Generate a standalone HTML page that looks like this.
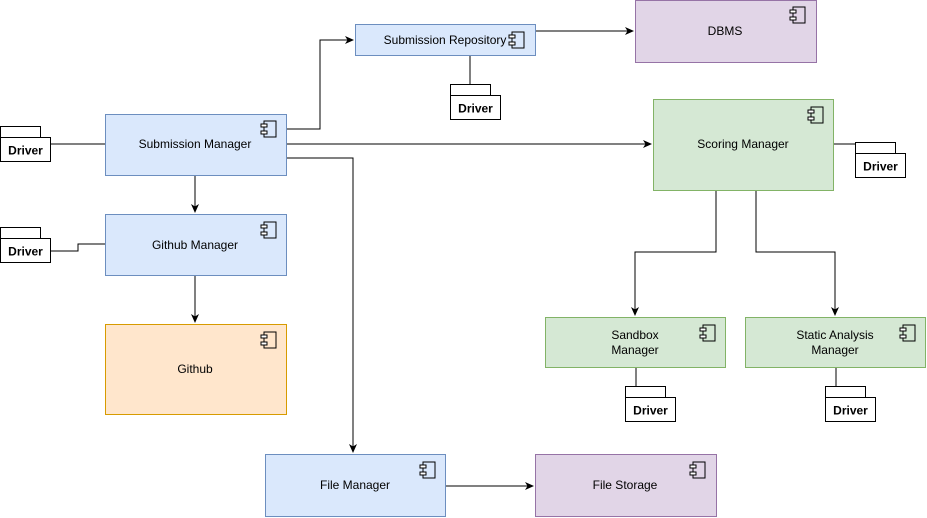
<!DOCTYPE html>
<html><head><meta charset="utf-8"><style>body{margin:0;background:#fff}svg{display:block}</style></head><body>
<svg width="927" height="518" viewBox="0 0 927 518" xmlns="http://www.w3.org/2000/svg" font-family="Liberation Sans, sans-serif" font-size="12">
<defs>
<marker id="a" markerWidth="10" markerHeight="10" refX="8" refY="5" orient="auto" markerUnits="userSpaceOnUse"><path d="M0,1 L9,5 L0,9 L2.5,5 Z" fill="#000"/></marker>
<g id="ic"><rect x="3" y="0" width="12" height="16" fill="none" stroke="#000"/><rect x="0" y="3" width="6" height="3" fill="#fff" stroke="#000"/><rect x="0" y="10" width="6" height="3" fill="#fff" stroke="#000"/></g>
<g id="dr"><rect x="0" y="0" width="40" height="11" fill="#fff" stroke="#000"/><rect x="0" y="11" width="50" height="24" fill="#fff" stroke="#000"/><text x="25" y="28" text-anchor="middle" font-weight="bold">Driver</text></g>
</defs>
<g fill="none" stroke="#000" stroke-width="1">
<path d="M286,129 H320 V40 H353" marker-end="url(#a)"/>
<path d="M286,144 H651" marker-end="url(#a)"/>
<path d="M286,158 H353 V452" marker-end="url(#a)"/>
<path d="M195,175 V212" marker-end="url(#a)"/>
<path d="M195,276 V322" marker-end="url(#a)"/>
<path d="M445,486 H533" marker-end="url(#a)"/>
<path d="M535,31 H633" marker-end="url(#a)"/>
<path d="M716,190 V252 H635 V315" marker-end="url(#a)"/>
<path d="M756,190 V252 H835 V315" marker-end="url(#a)"/>
<path d="M50,144 H105"/>
<path d="M50,251 H78 V244 H105"/>
<path d="M470,55 V84"/>
<path d="M833,144 H855"/>
<path d="M636,367 V386"/>
<path d="M836,367 V386"/>
</g>
<g>
<rect x="105.5" y="114.5" width="181" height="61" fill="#dae8fc" stroke="#6c8ebf"/>
<text x="195" y="148" text-anchor="middle">Submission Manager</text><use href="#ic" x="261" y="121"/>
<rect x="105.5" y="214.5" width="181" height="61" fill="#dae8fc" stroke="#6c8ebf"/>
<text x="195" y="249" text-anchor="middle">Github Manager</text><use href="#ic" x="261" y="222"/>
<rect x="105.5" y="324.5" width="181" height="90" fill="#ffe6cc" stroke="#d79b00"/>
<text x="195" y="373" text-anchor="middle">Github</text><use href="#ic" x="261" y="332"/>
<rect x="265.5" y="454.5" width="180" height="62" fill="#dae8fc" stroke="#6c8ebf"/>
<text x="355" y="489" text-anchor="middle">File Manager</text><use href="#ic" x="420" y="462"/>
<rect x="535.5" y="454.5" width="181" height="62" fill="#e1d5e7" stroke="#9673a6"/>
<text x="625" y="489" text-anchor="middle">File Storage</text><use href="#ic" x="690" y="462"/>
<rect x="355.5" y="24.5" width="180" height="31" fill="#dae8fc" stroke="#6c8ebf"/>
<text x="445" y="44" text-anchor="middle">Submission Repository</text><use href="#ic" x="509" y="32"/>
<rect x="635.5" y="0.5" width="181" height="62" fill="#e1d5e7" stroke="#9673a6"/>
<text x="725" y="35" text-anchor="middle">DBMS</text><use href="#ic" x="790" y="7"/>
<rect x="653.5" y="99.5" width="180" height="91" fill="#d5e8d4" stroke="#82b366"/>
<text x="743" y="148" text-anchor="middle">Scoring Manager</text><use href="#ic" x="808" y="107"/>
<rect x="545.5" y="317.5" width="180" height="50" fill="#d5e8d4" stroke="#82b366"/>
<text x="635" y="339" text-anchor="middle">Sandbox</text><text x="635" y="354" text-anchor="middle">Manager</text><use href="#ic" x="700" y="325"/>
<rect x="745.5" y="317.5" width="180" height="50" fill="#d5e8d4" stroke="#82b366"/>
<text x="835" y="339" text-anchor="middle">Static Analysis</text><text x="835" y="354" text-anchor="middle">Manager</text><use href="#ic" x="900" y="325"/>
<use href="#dr" x="0.5" y="126.5"/>
<use href="#dr" x="0.5" y="227.5"/>
<use href="#dr" x="450.5" y="84.5"/>
<use href="#dr" x="855.5" y="142.5"/>
<use href="#dr" x="625.5" y="386.5"/>
<use href="#dr" x="825.5" y="386.5"/>
</g>
</svg>
</body></html>
